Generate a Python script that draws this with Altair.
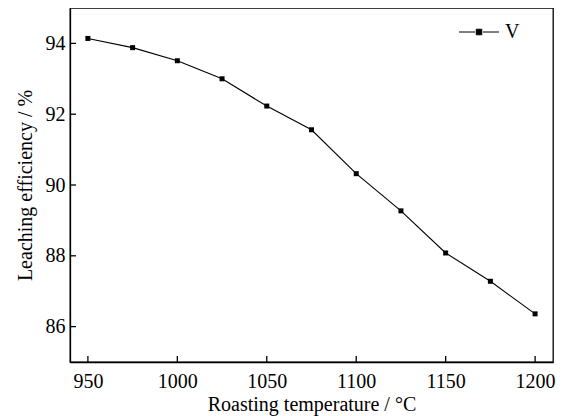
import altair as alt
import pandas as pd

temps = [950, 975, 1000, 1025, 1050, 1075, 1100, 1125, 1150, 1175, 1200]
eff = [94.14, 93.88, 93.51, 93.00, 92.23, 91.56, 90.32, 89.27, 88.08, 87.28, 86.36]
series = ["V"] * len(temps)
x_ticks = [950, 1000, 1050, 1100, 1150, 1200]
y_ticks = [86, 88, 90, 92, 94]

W, H = 483, 354
FONT = "Liberation Serif"

df = pd.DataFrame({"t": temps, "e": eff, "s": series})
xt = pd.DataFrame({"t": x_ticks})
yt = pd.DataFrame({"e": y_ticks})

xscale = alt.Scale(domain=[940, 1210], nice=False, zero=False)
yscale = alt.Scale(domain=[85, 95], nice=False, zero=False)

xaxis = alt.Axis(values=x_ticks, format="d", tickSize=0, labelFont=FONT, labelFontSize=20,
                 labelColor="black", labelPadding=9, title="Roasting temperature / °C",
                 titleFont=FONT, titleFontSize=20, titleFontWeight="normal",
                 titleColor="black", titlePadding=3, domainColor="black",
                 domainWidth=1.3, grid=False)
yaxis = alt.Axis(values=y_ticks, format="d", tickSize=0, labelFont=FONT, labelFontSize=20,
                 labelColor="black", labelPadding=5, title="Leaching efficiency / %",
                 titleFont=FONT, titleFontSize=20, titleFontWeight="normal",
                 titleColor="black", titlePadding=10, domainColor="black",
                 domainWidth=1.3, grid=False)

sym = "M-4,0L-0.8,0M0.8,0L4,0M-0.55,-0.55L0.55,-0.55L0.55,0.55L-0.55,0.55Z"
color = alt.Color("s:N", scale=alt.Scale(range=["black"]),
                  legend=alt.Legend(title=None, orient="none", legendX=399, legendY=14,
                                    symbolType=sym,
                                    symbolSize=100, symbolFillColor="black",
                                    symbolStrokeColor="black", symbolStrokeWidth=1,
                                    symbolOpacity=1,
                                    labelFont=FONT, labelFontSize=20, labelColor="black",
                                    labelOffset=16, padding=0))

line = alt.Chart(df).mark_line(strokeWidth=1.1).encode(
    x=alt.X("t:Q", scale=xscale, axis=xaxis),
    y=alt.Y("e:Q", scale=yscale, axis=yaxis),
    color=color,
)
pts = alt.Chart(df).mark_point(shape="square", filled=True, size=25, opacity=1).encode(
    x=alt.X("t:Q", scale=xscale, axis=xaxis),
    y=alt.Y("e:Q", scale=yscale, axis=yaxis),
    color=color,
)
xticks = alt.Chart(xt).mark_rule(strokeWidth=1.3, color="black").encode(
    x=alt.X("t:Q", scale=xscale, axis=xaxis), y=alt.value(H), y2=alt.value(H - 6))
yticks = alt.Chart(yt).mark_rule(strokeWidth=1.3, color="black").encode(
    y=alt.Y("e:Q", scale=yscale, axis=yaxis), x=alt.value(0), x2=alt.value(6))

chart = alt.layer(line, pts, xticks, yticks).properties(
    width=W, height=H,
    autosize=alt.AutoSizeParams(type="none"),
    padding={"left": 62, "top": 0, "right": 5, "bottom": 54},
).configure_view(stroke="black", strokeWidth=1.3)

chart.save("out.html", embed_options={"renderer": "svg", "actions": False})
